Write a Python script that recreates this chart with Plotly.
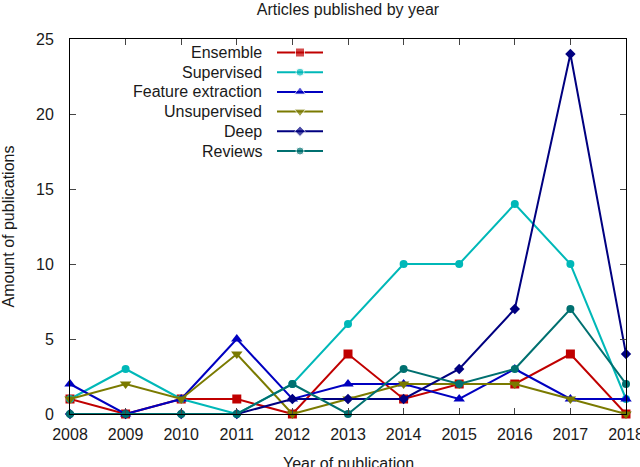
import plotly.graph_objects as go

years = [2008, 2009, 2010, 2011, 2012, 2013, 2014, 2015, 2016, 2017, 2018]

ensemble = [1, 0, 1, 1, 0, 4, 1, 2, 2, 4, 0]
supervised = [1, 3, 1, 0, 2, 6, 10, 10, 14, 10, 1]
feature_extraction = [2, 0, 1, 5, 1, 2, 2, 1, 3, 1, 1]
unsupervised = [1, 2, 1, 4, 0, 1, 2, 2, 2, 1, 0]
deep = [0, 0, 0, 0, 1, 1, 1, 3, 7, 24, 4]
reviews = [0, 0, 0, 0, 2, 0, 3, 2, 3, 7, 2]

series = [
    ("Ensemble", ensemble, "#c00000", "square", 9),
    ("Supervised", supervised, "#00b8b8", "circle", 8),
    ("Feature extraction", feature_extraction, "#0000c0", "triangle-up", 10),
    ("Unsupervised", unsupervised, "#7a7a00", "triangle-down", 10),
    ("Deep", deep, "#000080", "diamond", 8),
    ("Reviews", reviews, "#007070", "circle", 8),
]

W, H = 640, 467
L, R, T, B = 70, 14, 39, 53
FONT = "Liberation Sans, Arial, sans-serif"

fig = go.Figure()

for name, vals, col, sym, sz in series:
    fig.add_trace(go.Scatter(
        x=years, y=vals, mode="lines+markers", name=name,
        line=dict(color=col, width=2),
        marker=dict(symbol=sym, size=sz, color=col),
        cliponaxis=False, showlegend=False,
    ))

# gnuplot-style key: label right-aligned, sample to the right
pw = W - L - R
ph = H - T - B
for i, (name, vals, col, sym, sz) in enumerate(series):
    ypx = 52.5 + 19.7 * i
    yp = 1 - (ypx - T) / ph
    x0 = (277 - L) / pw
    x1 = (323 - L) / pw
    xm = (300 - L) / pw
    fig.add_trace(go.Scatter(
        x=[x0, xm, x1], y=[yp, yp, yp], mode="lines+markers",
        xaxis="x2", yaxis="y2", showlegend=False, hoverinfo="skip",
        line=dict(color=col, width=2),
        marker=dict(symbol=sym, size=[0, sz, 0], color=col),
    ))
    fig.add_annotation(
        x=(264 - L) / pw, y=yp, xref="paper", yref="paper",
        text=name, showarrow=False, xanchor="right", yanchor="middle",
        font=dict(family=FONT, size=16, color="#1a1a1a"),
    )

# x axis title, placed by hand so it sits low like the original
fig.add_annotation(
    x=0.5, y=0, xref="paper", yref="paper", yshift=-49,
    text="Year of publication", showarrow=False, xanchor="center", yanchor="middle",
    font=dict(family=FONT, size=16, color="#1a1a1a"),
)

fig.update_layout(
    width=W, height=H,
    margin=dict(l=L, r=R, t=T, b=B),
    paper_bgcolor="white", plot_bgcolor="white",
    font=dict(family=FONT, size=16, color="#1a1a1a"),
    title=dict(text="Articles published by year", x=(L + pw / 2) / W, xanchor="center",
               y=1 - 9 / H, yanchor="middle", font=dict(size=16)),
    xaxis=dict(range=[2008, 2018], tickvals=years, ticks="inside", ticklen=6,
               ticklabelstandoff=6, ticklabeloverflow="allow",
               showline=True, linecolor="black", linewidth=1, mirror="ticks",
               showgrid=False, zeroline=False, automargin=False),
    yaxis=dict(range=[0, 25], tickvals=[0, 5, 10, 15, 20, 25], ticks="inside", ticklen=6,
               ticklabelstandoff=12,
               showline=True, linecolor="black", linewidth=1, mirror="ticks",
               showgrid=False, zeroline=False, automargin=False,
               title=dict(text="Amount of publications", standoff=17, font=dict(size=16))),
    xaxis2=dict(range=[0, 1], overlaying="x", visible=False),
    yaxis2=dict(range=[0, 1], overlaying="y", visible=False),
)

# drop the default 8px page margin so the figure sits at the window's corner
fig.write_html("out.html", config={"displayModeBar": False},
               post_script="document.body.style.margin='0';")
